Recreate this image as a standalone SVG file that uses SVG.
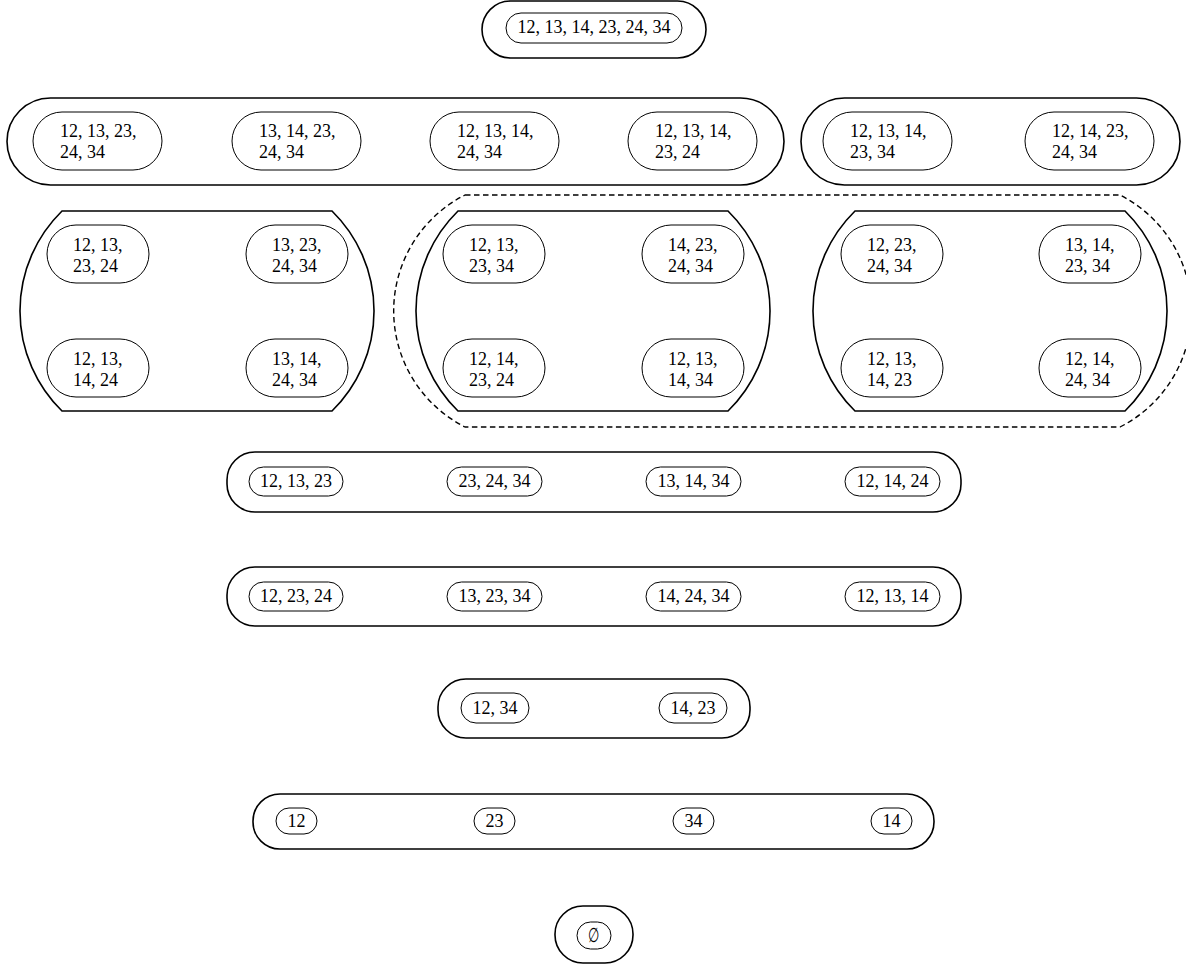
<svg xmlns="http://www.w3.org/2000/svg" width="1186" height="968" viewBox="0 0 1186 968">
<style>
.outer{fill:none;stroke:#000;stroke-width:1.6}
.pill{fill:none;stroke:#000;stroke-width:1}
.dash{fill:none;stroke:#000;stroke-width:1.4;stroke-dasharray:5.5 3.5}
text{font-family:"Liberation Serif","Times New Roman",serif;font-size:18px;fill:#000}
.c{text-anchor:middle}
</style>
<rect width="1186" height="968" fill="#fff"/>
<g id="connectors"/>
<g id="level6">
<rect class="outer" x="482" y="1" width="224" height="57" rx="28.5"/>
<g id="n-all"><rect class="pill" x="506" y="13" width="176" height="30" rx="15"/><text class="c" x="594" y="33">12, 13, 14, 23, 24, 34</text></g>
</g>
<g id="level5a">
<rect class="outer" x="7" y="98" width="777" height="87" rx="43.5"/>
<g id="n5-1"><rect class="pill" x="33" y="112" width="129" height="58" rx="29"/><text x="60" y="137">12, 13, 23,</text><text x="60" y="158">24, 34</text></g>
<g id="n5-2"><rect class="pill" x="232" y="112" width="129" height="58" rx="29"/><text x="259" y="137">13, 14, 23,</text><text x="259" y="158">24, 34</text></g>
<g id="n5-3"><rect class="pill" x="430" y="112" width="129" height="58" rx="29"/><text x="457" y="137">12, 13, 14,</text><text x="457" y="158">24, 34</text></g>
<g id="n5-4"><rect class="pill" x="628" y="112" width="129" height="58" rx="29"/><text x="655" y="137">12, 13, 14,</text><text x="655" y="158">23, 24</text></g>
</g>
<g id="level5b">
<rect class="outer" x="801" y="98" width="379" height="87" rx="43.5"/>
<g id="n5-5"><rect class="pill" x="823" y="112" width="129" height="58" rx="29"/><text x="850" y="137">12, 13, 14,</text><text x="850" y="158">23, 34</text></g>
<g id="n5-6"><rect class="pill" x="1025" y="112" width="129" height="58" rx="29"/><text x="1052" y="137">12, 14, 23,</text><text x="1052" y="158">24, 34</text></g>
</g>
<g id="level4-dashed">
<path class="dash" d="M465,195 H1120 A130,130 0 0 1 1120,427 H465 A130,130 0 0 1 465,195 Z"/>
</g>
<g id="level4a">
<path class="outer" d="M62,211 H332 A140,140 0 0 1 332,411 H62 A140,140 0 0 1 62,211 Z"/>
<g id="n4-1"><rect class="pill" x="47" y="225" width="102" height="58" rx="29"/><text x="73" y="251">12, 13,</text><text x="73" y="272">23, 24</text></g>
<g id="n4-2"><rect class="pill" x="246" y="225" width="102" height="58" rx="29"/><text x="272" y="251">13, 23,</text><text x="272" y="272">24, 34</text></g>
<g id="n4-3"><rect class="pill" x="47" y="339" width="102" height="58" rx="29"/><text x="73" y="365">12, 13,</text><text x="73" y="386">14, 24</text></g>
<g id="n4-4"><rect class="pill" x="246" y="339" width="102" height="58" rx="29"/><text x="272" y="365">13, 14,</text><text x="272" y="386">24, 34</text></g>
</g>
<g id="level4b">
<path class="outer" d="M458,211 H728 A140,140 0 0 1 728,411 H458 A140,140 0 0 1 458,211 Z"/>
<g id="n4-5"><rect class="pill" x="443" y="225" width="102" height="58" rx="29"/><text x="469" y="251">12, 13,</text><text x="469" y="272">23, 34</text></g>
<g id="n4-6"><rect class="pill" x="642" y="225" width="102" height="58" rx="29"/><text x="668" y="251">14, 23,</text><text x="668" y="272">24, 34</text></g>
<g id="n4-7"><rect class="pill" x="443" y="339" width="102" height="58" rx="29"/><text x="469" y="365">12, 14,</text><text x="469" y="386">23, 24</text></g>
<g id="n4-8"><rect class="pill" x="642" y="339" width="102" height="58" rx="29"/><text x="668" y="365">12, 13,</text><text x="668" y="386">14, 34</text></g>
</g>
<g id="level4c">
<path class="outer" d="M855,211 H1125 A140,140 0 0 1 1125,411 H855 A140,140 0 0 1 855,211 Z"/>
<g id="n4-9"><rect class="pill" x="841" y="225" width="102" height="58" rx="29"/><text x="867" y="251">12, 23,</text><text x="867" y="272">24, 34</text></g>
<g id="n4-10"><rect class="pill" x="1039" y="225" width="102" height="58" rx="29"/><text x="1065" y="251">13, 14,</text><text x="1065" y="272">23, 34</text></g>
<g id="n4-11"><rect class="pill" x="841" y="339" width="102" height="58" rx="29"/><text x="867" y="365">12, 13,</text><text x="867" y="386">14, 23</text></g>
<g id="n4-12"><rect class="pill" x="1039" y="339" width="102" height="58" rx="29"/><text x="1065" y="365">12, 14,</text><text x="1065" y="386">24, 34</text></g>
</g>
<g id="level3a">
<rect class="outer" x="227" y="452" width="734" height="60" rx="28"/>
<g id="n3-1"><rect class="pill" x="249" y="467" width="94" height="29" rx="14.5"/><text class="c" x="296" y="487">12, 13, 23</text></g>
<g id="n3-2"><rect class="pill" x="447" y="467" width="95" height="29" rx="14.5"/><text class="c" x="494.5" y="487">23, 24, 34</text></g>
<g id="n3-3"><rect class="pill" x="646" y="467" width="95" height="29" rx="14.5"/><text class="c" x="693.5" y="487">13, 14, 34</text></g>
<g id="n3-4"><rect class="pill" x="845" y="467" width="95" height="29" rx="14.5"/><text class="c" x="892.5" y="487">12, 14, 24</text></g>
</g>
<g id="level3b">
<rect class="outer" x="227" y="567" width="734" height="59" rx="28"/>
<g id="n3-5"><rect class="pill" x="249" y="582" width="94" height="29" rx="14.5"/><text class="c" x="296" y="602">12, 23, 24</text></g>
<g id="n3-6"><rect class="pill" x="447" y="582" width="95" height="29" rx="14.5"/><text class="c" x="494.5" y="602">13, 23, 34</text></g>
<g id="n3-7"><rect class="pill" x="646" y="582" width="95" height="29" rx="14.5"/><text class="c" x="693.5" y="602">14, 24, 34</text></g>
<g id="n3-8"><rect class="pill" x="845" y="582" width="95" height="29" rx="14.5"/><text class="c" x="892.5" y="602">12, 13, 14</text></g>
</g>
<g id="level2">
<rect class="outer" x="438" y="679" width="312" height="59" rx="28"/>
<g id="n2-1"><rect class="pill" x="461" y="693" width="68" height="30" rx="15"/><text class="c" x="495" y="714">12, 34</text></g>
<g id="n2-2"><rect class="pill" x="659" y="693" width="68" height="30" rx="15"/><text class="c" x="693" y="714">14, 23</text></g>
</g>
<g id="level1">
<rect class="outer" x="253" y="794" width="681" height="55" rx="27"/>
<g id="n1-1"><rect class="pill" x="276" y="808" width="41" height="26" rx="13"/><text class="c" x="296.5" y="827">12</text></g>
<g id="n1-2"><rect class="pill" x="474" y="808" width="41" height="26" rx="13"/><text class="c" x="494.5" y="827">23</text></g>
<g id="n1-3"><rect class="pill" x="673" y="808" width="41" height="26" rx="13"/><text class="c" x="693.5" y="827">34</text></g>
<g id="n1-4"><rect class="pill" x="871" y="808" width="41" height="26" rx="13"/><text class="c" x="891.5" y="827">14</text></g>
</g>
<g id="level0">
<rect class="outer" x="555" y="906" width="78" height="57" rx="28"/>
<g id="n0"><rect class="pill" x="577" y="922" width="34" height="27" rx="13.5"/><text class="c" transform="translate(594,942) scale(0.65,1)" x="0" y="0" style="font-size:20px">∅</text></g>
</g>
</svg>
